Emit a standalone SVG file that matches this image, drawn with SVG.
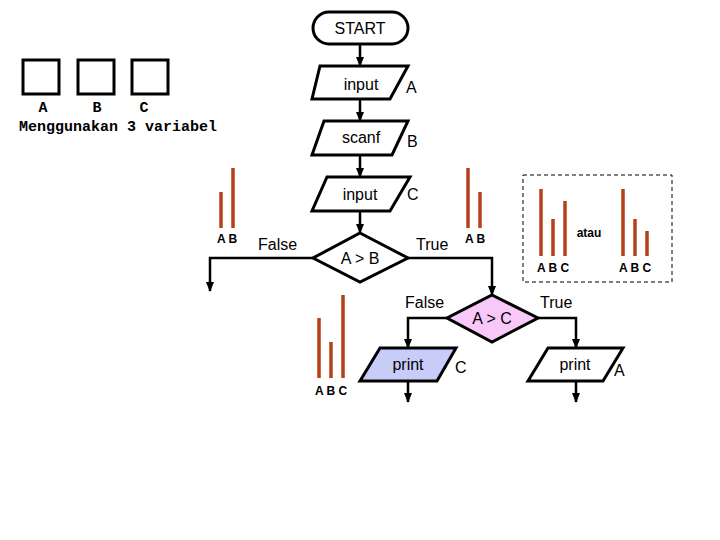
<svg xmlns="http://www.w3.org/2000/svg" width="720" height="540" viewBox="0 0 720 540">
<defs>
<marker id="ah" markerWidth="10" markerHeight="8" refX="9" refY="4" orient="auto" markerUnits="userSpaceOnUse"><path d="M0,0 L10,4 L0,8 Z" fill="#000"/></marker>
<style>
.s{fill:#fff;stroke:#000;stroke-width:3}
.t{font-family:"Liberation Sans",Arial,sans-serif;font-size:16px;fill:#000}
.c{text-anchor:middle}
.b{stroke:#b5411a;stroke-width:3.5}
.bl{font-family:"Liberation Sans",Arial,sans-serif;font-size:12px;font-weight:bold;fill:#000}
.m{font-family:"Liberation Mono","Courier New",monospace;font-size:15px;fill:#000}
.l{fill:none;stroke:#000;stroke-width:2.5}
</style>
</defs>
<rect width="720" height="540" fill="#fff"/>
<g id="vars">
<rect x="23" y="60" width="36" height="34" fill="none" stroke="#000" stroke-width="3"/>
<rect x="78" y="60" width="36" height="34" fill="none" stroke="#000" stroke-width="3"/>
<rect x="132" y="60" width="36" height="34" fill="none" stroke="#000" stroke-width="3"/>
<text class="m" x="43" y="112" text-anchor="middle" font-weight="bold">A</text>
<text class="m" x="97" y="112" text-anchor="middle" font-weight="bold">B</text>
<text class="m" x="144" y="112" text-anchor="middle" font-weight="bold">C</text>
<text class="m" x="118" y="131" text-anchor="middle" font-weight="bold">Menggunakan 3 variabel</text>
</g>
<g id="connectors">
<line class="l" x1="360" y1="44" x2="360" y2="66" marker-end="url(#ah)"/>
<line class="l" x1="360" y1="99" x2="360" y2="121" marker-end="url(#ah)"/>
<line class="l" x1="360" y1="155" x2="360" y2="177" marker-end="url(#ah)"/>
<line class="l" x1="360" y1="211" x2="360" y2="233" marker-end="url(#ah)"/>
<polyline class="l" points="313,258 210,258 210,291" marker-end="url(#ah)"/>
<polyline class="l" points="408,258 492,258 492,295" marker-end="url(#ah)"/>
<polyline class="l" points="447,318 408,318 408,348" marker-end="url(#ah)"/>
<polyline class="l" points="538,318 576,318 576,348" marker-end="url(#ah)"/>
<line class="l" x1="408" y1="381" x2="408" y2="402" marker-end="url(#ah)"/>
<line class="l" x1="576" y1="381" x2="576" y2="402" marker-end="url(#ah)"/>
</g>
<g id="start"><rect class="s" x="313" y="12" width="95" height="32" rx="16"/><text class="t c" x="360" y="34">START</text></g>
<g id="inputA"><polygon class="s" points="320,66 408,66 390,99 312,99"/><text class="t c" x="361" y="90" font-size="18">input</text><text class="t" x="406" y="93">A</text></g>
<g id="scanfB"><polygon class="s" points="324,121 408,121 392,155 312,155"/><text class="t c" x="361" y="143">scanf</text><text class="t" x="407" y="147">B</text></g>
<g id="inputC"><polygon class="s" points="327,177 410,177 390,211 312,211"/><text class="t c" x="360" y="200" font-size="18">input</text><text class="t" x="407" y="200">C</text></g>
<g id="decAB"><polygon class="s" points="360,233 408,258 360,282 313,258"/><text class="t c" x="360" y="264">A &gt; B</text>
<text class="t" x="258" y="250">False</text><text class="t" x="416" y="250">True</text></g>
<g id="decAC"><polygon class="s" points="492,295 538,318 492,342 447,318" style="fill:#f8c8f8"/><text class="t c" x="492" y="324">A &gt; C</text>
<text class="t" x="405" y="308">False</text><text class="t" x="540" y="308">True</text></g>
<g id="printC"><polygon class="s" points="380,348 456,348 437,381 360,381" style="fill:#c8ccf8"/><text class="t c" x="408" y="370">print</text><text class="t" x="455" y="373">C</text></g>
<g id="printA"><polygon class="s" points="548,348 623,348 603,381 528,381"/><text class="t c" x="575" y="370">print</text><text class="t" x="614" y="376">A</text></g>
<g id="bars">
<line class="b" x1="221" y1="192" x2="221" y2="228"/><line class="b" x1="233" y1="168" x2="233" y2="228"/>
<text class="bl" x="227" y="243" text-anchor="middle">A B</text>
<line class="b" x1="468" y1="168" x2="468" y2="228"/><line class="b" x1="480" y1="192" x2="480" y2="228"/>
<text class="bl" x="475" y="243" text-anchor="middle">A B</text>
<line class="b" x1="319" y1="318" x2="319" y2="378"/><line class="b" x1="331" y1="342" x2="331" y2="378"/><line class="b" x1="343" y1="295" x2="343" y2="378"/>
<text class="bl" x="331" y="395" text-anchor="middle">A B C</text>
<rect x="523" y="175" width="149" height="107" fill="none" stroke="#000" stroke-width="1" stroke-dasharray="4,3"/>
<line class="b" x1="541" y1="189" x2="541" y2="256"/><line class="b" x1="553" y1="219" x2="553" y2="256"/><line class="b" x1="565" y1="201" x2="565" y2="256"/>
<text class="bl" x="553" y="272" text-anchor="middle">A B C</text>
<text class="bl" x="589" y="237" text-anchor="middle" font-weight="normal">atau</text>
<line class="b" x1="623" y1="189" x2="623" y2="256"/><line class="b" x1="635" y1="219" x2="635" y2="256"/><line class="b" x1="647" y1="231" x2="647" y2="256"/>
<text class="bl" x="635" y="272" text-anchor="middle">A B C</text>
</g>
</svg>
